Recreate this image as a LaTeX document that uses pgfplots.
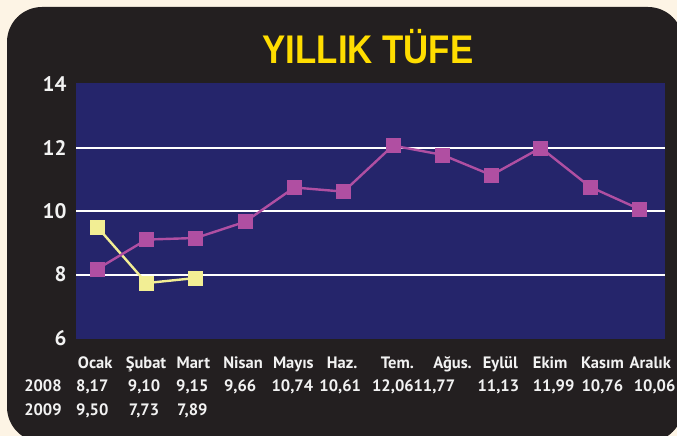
\documentclass[border=0pt]{standalone}
\usepackage{pgfplots}
\pgfplotsset{compat=1.18}
\usepackage{fontspec}
\setmainfont{PT Sans}
\newfontfamily\titlefont{Liberation Sans}
\definecolor{cream}{HTML}{FDF4E5}
\definecolor{panel}{HTML}{231F20}
\definecolor{plotbg}{HTML}{25256B}
\definecolor{mag}{HTML}{B04FA2}
\definecolor{yel}{HTML}{F2EE94}
\definecolor{ttl}{HTML}{FFDD00}
\definecolor{txt}{HTML}{F2F2F2}
\begin{document}
\begin{tikzpicture}
\useasboundingbox[fill=cream] (0pt,0pt) rectangle (677pt,436pt);
\begin{scope}
\clip (0pt,0pt) rectangle (677pt,436pt);
\fill[panel, rounded corners=35pt] (7pt,-6pt) rectangle (683pt,429pt);
\end{scope}
\node[text=ttl, font=\titlefont\bfseries\fontsize{40}{40}\selectfont] at (368pt,389pt) {\scalebox{0.87}[1]{YILLIK TÜFE}};
\begin{axis}[
  at={(76pt,98pt)}, anchor=south west,
  width=589pt, height=254pt, scale only axis,
  xmin=-0.43, xmax=11.52, ymin=6, ymax=14,
  axis background/.style={fill=plotbg},
  axis line style={draw=none},
  ytick={6,8,10,12,14},
  xtick=\empty,
  major tick length=0pt,
  ymajorgrids=true,
  grid style={white, line width=2pt},
  /pgf/number format/assume math mode=true,
  yticklabel style={text=txt, font=\bfseries\fontsize{21}{21}\selectfont, xshift=-6pt},
  clip=false,
]
\draw[plotbg, line width=2.5pt] (axis cs:-0.43,14) -- (axis cs:11.52,14);
\draw[plotbg, line width=2.5pt] (axis cs:-0.43,6) -- (axis cs:11.52,6);
\addplot[yel, line width=2.4pt, mark=square*, mark size=7pt,
  mark options={fill=yel, draw=yel, rounded corners=2.5pt, line width=0.6pt}]
  coordinates {(0,9.50) (1,7.73) (2,7.89)};
\addplot[mag, line width=2.4pt, mark=square*, mark size=7pt,
  mark options={fill=mag, draw=mag, rounded corners=2.5pt, line width=0.6pt}]
  coordinates {(0,8.17) (1,9.10) (2,9.15) (3,9.66) (4,10.74) (5,10.61)
               (6,12.06) (7,11.77) (8,11.13) (9,11.99) (10,10.76) (11,10.06)};
\begin{scope}[every node/.style={text=txt, font=\bfseries\fontsize{16.5}{16.5}\selectfont, anchor=base, inner sep=0pt}]
% month names
\node at (axis cs:-0.04,5.05) {Ocak};
\node at (axis cs:0.99,5.05) {Şubat};
\node at (axis cs:1.95,5.05) {Mart};
\node at (axis cs:2.96,5.05) {Nisan};
\node at (axis cs:3.98,5.05) {Mayıs};
\node at (axis cs:4.97,5.05) {Haz.};
\node at (axis cs:6.09,5.05) {Tem.};
\node at (axis cs:7.21,5.05) {Ağus.};
\node at (axis cs:8.18,5.05) {Eylül};
\node at (axis cs:9.19,5.05) {Ekim};
\node at (axis cs:10.25,5.05) {Kasım};
\node at (axis cs:11.22,5.05) {Aralık};
% 2008 row
\node at (axis cs:-1.10,4.30) {2008};
\node at (axis cs:-0.10,4.30) {8,17};
\node at (axis cs:0.95,4.30) {9,10};
\node at (axis cs:1.93,4.30) {9,15};
\node at (axis cs:2.90,4.30) {9,66};
\node at (axis cs:3.96,4.30) {10,74};
\node at (axis cs:4.93,4.30) {10,61};
\node at (axis cs:6.00,4.30) {12,06};
\node at (axis cs:6.84,4.30) {11,77};
\node at (axis cs:8.14,4.30) {11,13};
\node at (axis cs:9.26,4.30) {11,99};
\node at (axis cs:10.25,4.30) {10,76};
\node at (axis cs:11.31,4.30) {10,06};
% 2009 row
\node at (axis cs:-1.10,3.55) {2009};
\node at (axis cs:-0.10,3.55) {9,50};
\node at (axis cs:0.95,3.55) {7,73};
\node at (axis cs:1.93,3.55) {7,89};
\end{scope}
\end{axis}
\end{tikzpicture}
\end{document}
